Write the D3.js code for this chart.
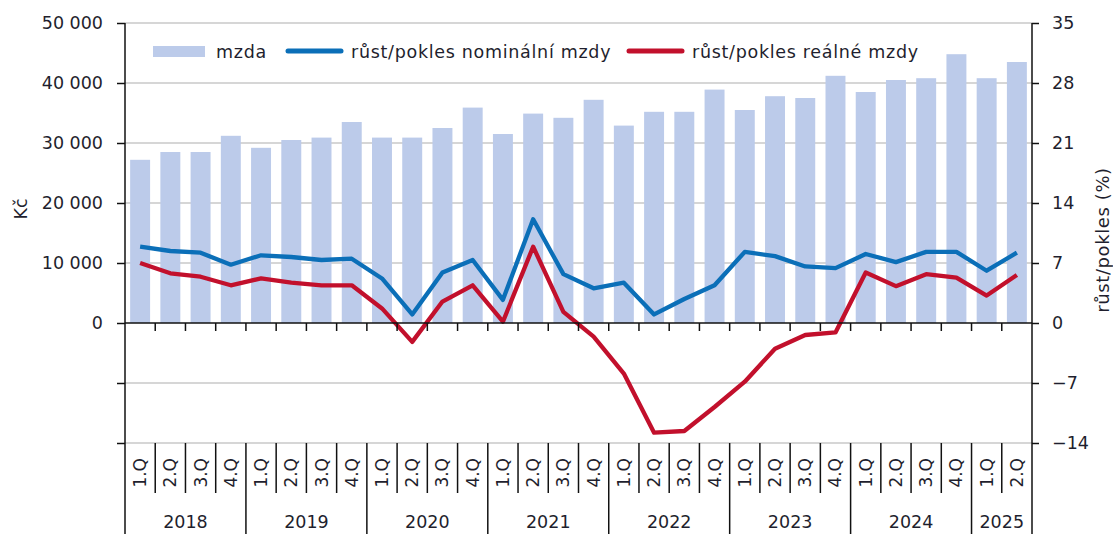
<!DOCTYPE html>
<html>
<head>
<meta charset="utf-8">
<script src="https://cdn.jsdelivr.net/npm/d3@7"></script>
<style>
  body { margin: 0; background: #fff; }
  text { font-family: "DejaVu Sans", sans-serif; fill: #1f1f2e; }
</style>
</head>
<body>
<div id="chart"></div>
<script>
const width = 1113
const height = 534
const margins = { left: 125, right: 81, top: 23 }

// DATA
const years = ["2018", "2019", "2020", "2021", "2022", "2023", "2024", "2025"]
const quarters = ["1.Q", "2.Q", "3.Q", "4.Q"]
const periods = [
  "2018-1", "2018-2", "2018-3", "2018-4",
  "2019-1", "2019-2", "2019-3", "2019-4",
  "2020-1", "2020-2", "2020-3", "2020-4",
  "2021-1", "2021-2", "2021-3", "2021-4",
  "2022-1", "2022-2", "2022-3", "2022-4",
  "2023-1", "2023-2", "2023-3", "2023-4",
  "2024-1", "2024-2", "2024-3", "2024-4",
  "2025-1", "2025-2"
]
const mzda = [
  27200, 28500, 28500, 31200,
  29200, 30500, 30900, 33500,
  30900, 30900, 32500, 35900,
  31500, 34900, 34200, 37200,
  32900, 35200, 35200, 38900,
  35500, 37800, 37500, 41200,
  38500, 40500, 40800, 44800,
  40800, 43500
]
const rustNominal = [
  8.9, 8.4, 8.2, 6.8,
  7.9, 7.7, 7.35, 7.5,
  5.2, 1.0, 5.9, 7.35,
  2.7, 12.1, 5.7, 4.05,
  4.7, 1.0, 2.8, 4.4,
  8.3, 7.8, 6.6, 6.4,
  8.05, 7.1, 8.3, 8.3,
  6.1, 8.2
]
const rustRealne = [
  7.0, 5.8, 5.4, 4.4,
  5.2, 4.7, 4.4, 4.4,
  1.7, -2.2, 2.5, 4.4,
  0.15, 8.9, 1.3, -1.6,
  -5.9, -12.8, -12.6, -9.8,
  -6.85, -3.0, -1.4, -1.1,
  5.9, 4.3, 5.7, 5.3,
  3.2, 5.6
]
const leftTicks = [0, 10000, 20000, 30000, 40000, 50000]
const rightTicks = [-14, -7, 0, 7, 14, 21, 28, 35]

const barColor = "#bccbea"
const blueColor = "#0b6fb8"
const redColor = "#c2102c"

const svg = d3
  .select("#chart")
  .append("svg")
  .attr("width", width)
  .attr("height", height)

const plotRight = width - margins.right
const x = d3
  .scaleBand()
  .domain(periods)
  .range([margins.left, plotRight])
  .paddingInner(0.34)
  .paddingOuter(0.17)
const xStep = x.step()
const xEdge = (i) => margins.left + xStep * i
const xCenter = (p) => x(p) + x.bandwidth() / 2

const yRight = d3.scaleLinear().domain([-14, 35]).range([443, margins.top])
const yLeft = d3
  .scaleLinear()
  .domain([-20000, 50000])
  .range([443, margins.top])

// GRID
svg
  .append("g")
  .selectAll("line")
  .data(rightTicks.filter((d) => d !== 0))
  .join("line")
  .attr("x1", margins.left)
  .attr("x2", plotRight)
  .attr("y1", (d) => yRight(d))
  .attr("y2", (d) => yRight(d))
  .attr("stroke", "#c8c8c8")
  .attr("stroke-width", 1.5)

// BARS
svg
  .append("g")
  .selectAll("rect")
  .data(mzda)
  .join("rect")
  .attr("x", (d, i) => x(periods[i]))
  .attr("width", x.bandwidth())
  .attr("y", (d) => yLeft(d))
  .attr("height", (d) => yLeft(0) - yLeft(d))
  .attr("fill", barColor)

// LINES
const lineGen = d3
  .line()
  .x((d, i) => xCenter(periods[i]))
  .y((d) => yRight(d))

svg
  .append("path")
  .datum(rustNominal)
  .attr("d", lineGen)
  .attr("fill", "none")
  .attr("stroke", blueColor)
  .attr("stroke-width", 4.3)
  .attr("stroke-linejoin", "round")

svg
  .append("path")
  .datum(rustRealne)
  .attr("d", lineGen)
  .attr("fill", "none")
  .attr("stroke", redColor)
  .attr("stroke-width", 4.3)
  .attr("stroke-linejoin", "round")

// AXES
const yAxisLeft = svg
  .append("g")
  .attr("transform", `translate(${margins.left},0)`)
  .call(
    d3
      .axisLeft(yLeft)
      .tickValues([-20000, -10000].concat(leftTicks))
      .tickSize(8)
      .tickFormat((d) => (d < 0 ? "" : d3.format(",")(d).replace(/,/g, " ")))
  )
yAxisLeft
  .select(".domain")
  .attr("d", `M0,${margins.top}V${height}`)
  .attr("stroke", "#111")
  .attr("stroke-width", 1.5)
yAxisLeft.selectAll(".tick line").attr("stroke", "#111").attr("stroke-width", 1.5)
yAxisLeft
  .selectAll(".tick text")
  .attr("x", -22)
  .style("font-size", "17.5px")
  .style("font-family", "DejaVu Sans")

const yAxisRight = svg
  .append("g")
  .attr("transform", `translate(${plotRight},0)`)
  .call(d3.axisRight(yRight).tickValues(rightTicks).tickSize(7))
yAxisRight
  .select(".domain")
  .attr("d", `M0,${margins.top}V${height}`)
  .attr("stroke", "#111")
  .attr("stroke-width", 1.5)
yAxisRight.selectAll(".tick line").attr("stroke", "#111").attr("stroke-width", 1.5)
yAxisRight
  .selectAll(".tick text")
  .attr("x", 20)
  .style("font-size", "17.5px")
  .style("font-family", "DejaVu Sans")

// zero line with category ticks
svg
  .append("line")
  .attr("x1", margins.left)
  .attr("x2", plotRight)
  .attr("y1", yRight(0))
  .attr("y2", yRight(0))
  .attr("stroke", "#111")
  .attr("stroke-width", 1.5)

svg
  .append("g")
  .selectAll("line")
  .data(d3.range(1, periods.length))
  .join("line")
  .attr("x1", (d) => xEdge(d))
  .attr("x2", (d) => xEdge(d))
  .attr("y1", yRight(0))
  .attr("y2", yRight(0) + 8)
  .attr("stroke", "#111")
  .attr("stroke-width", 1.5)

// CATEGORY AREA BELOW PLOT
const catTop = yRight(-14)
svg
  .append("g")
  .selectAll("line")
  .data(d3.range(1, periods.length))
  .join("line")
  .attr("x1", (d) => xEdge(d))
  .attr("x2", (d) => xEdge(d))
  .attr("y1", catTop)
  .attr("y2", (d) => (d % 4 === 0 ? height : catTop + 50))
  .attr("stroke", "#111")
  .attr("stroke-width", 1.5)

svg
  .append("g")
  .selectAll("text")
  .data(periods)
  .join("text")
  .attr("transform", (d) => `translate(${xCenter(d) + 6},${catTop + 15}) rotate(-90)`)
  .attr("text-anchor", "end")
  .style("font-size", "17px")
  .text((d) => quarters[+d.split("-")[1] - 1])

svg
  .append("g")
  .selectAll("text")
  .data(years)
  .join("text")
  .attr("x", (d, i) => {
    const first = periods.findIndex((p) => p.startsWith(d))
    const count = periods.filter((p) => p.startsWith(d)).length
    return xEdge(first) + (xStep * count) / 2
  })
  .attr("y", 528)
  .attr("text-anchor", "middle")
  .style("font-size", "17.5px")
  .text((d) => d)

// AXIS TITLES
svg
  .append("text")
  .attr("transform", "translate(27,209) rotate(-90)")
  .attr("text-anchor", "middle")
  .style("font-size", "17.5px")
  .text("Kč")

svg
  .append("text")
  .attr("transform", "translate(1109,240) rotate(-90)")
  .attr("text-anchor", "middle")
  .style("font-size", "18px")
  .style("letter-spacing", "0.6px")
  .text("růst/pokles (%)")

// LEGEND
const legend = svg.append("g").attr("class", "legend")
legend
  .append("rect")
  .attr("x", 153)
  .attr("y", 46)
  .attr("width", 52)
  .attr("height", 11)
  .attr("fill", barColor)
legend
  .append("text")
  .attr("x", 216)
  .attr("y", 58)
  .style("font-size", "17.5px")
  .style("letter-spacing", "0.7px")
  .text("mzda")

legend
  .append("line")
  .attr("x1", 288)
  .attr("x2", 341)
  .attr("y1", 51)
  .attr("y2", 51)
  .attr("stroke", blueColor)
  .attr("stroke-width", 5)
  .attr("stroke-linecap", "round")
legend
  .append("text")
  .attr("x", 351)
  .attr("y", 58)
  .style("font-size", "17.5px")
  .style("letter-spacing", "0.7px")
  .text("růst/pokles nominální mzdy")

legend
  .append("line")
  .attr("x1", 629)
  .attr("x2", 682)
  .attr("y1", 51)
  .attr("y2", 51)
  .attr("stroke", redColor)
  .attr("stroke-width", 5)
  .attr("stroke-linecap", "round")
legend
  .append("text")
  .attr("x", 692)
  .attr("y", 58)
  .style("font-size", "17.5px")
  .style("letter-spacing", "0.7px")
  .text("růst/pokles reálné mzdy")
</script>
</body>
</html>
